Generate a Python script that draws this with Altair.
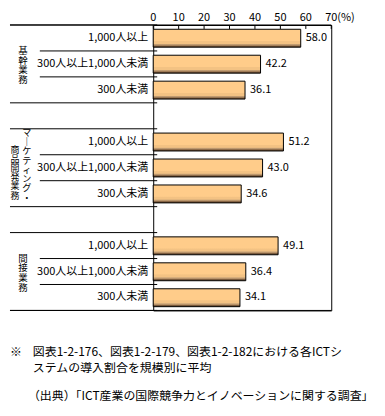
import altair as alt
import pandas as pd

groups = ["基幹業務", "マーケティング・商品開発業務", "間接業務"]
sizes = ["1,000人以上", "300人以上1,000人未満", "300人未満"]
values = [
    [58.0, 42.2, 36.1],
    [51.2, 43.0, 34.6],
    [49.1, 36.4, 34.1],
]
x_ticks = [0, 10, 20, 30, 40, 50, 60, 70]
note_lines = [
    "図表1-2-176、図表1-2-179、図表1-2-182における各ICTシ",
    "ステムの導入割合を規模別に平均",
]
source_line = "（出典）「ICT産業の国際競争力とイノベーションに関する調査」"

FONT = "Noto Sans CJK JP"
ROWS_PER_GROUP = len(sizes) + 1
N_ROWS = len(groups) * ROWS_PER_GROUP - 1

recs = []
for gi, g in enumerate(groups):
    for si, s in enumerate(sizes):
        r = gi * ROWS_PER_GROUP + si
        recs.append(dict(group=g, size=s, value=values[gi][si],
                         top=r + 0.165, bottom=r + 0.855, mid=r + 0.5))
df = pd.DataFrame(recs)

long_pos, short_pos = [], []
for gi in range(len(groups)):
    start = gi * ROWS_PER_GROUP
    long_pos += [start, start + len(sizes)]
    short_pos += [start + k for k in range(1, len(sizes))]
long_df = pd.DataFrame({"pos": long_pos})
short_df = pd.DataFrame({"pos": short_pos})
tick_df = pd.DataFrame({"t": x_ticks})

xs = alt.Scale(domain=[x_ticks[0], x_ticks[-1]], nice=False, zero=False)
ys = alt.Scale(domain=[0, N_ROWS], reverse=True, nice=False, zero=False)

grad = alt.Gradient(
    gradient="linear", x1=0, x2=0, y1=0, y2=1,
    stops=[
        alt.GradientStop(color="#FFCC8A", offset=0),
        alt.GradientStop(color="#FFCC8A", offset=0.64),
        alt.GradientStop(color="#F3C283", offset=0.66),
        alt.GradientStop(color="#F3C283", offset=0.80),
        alt.GradientStop(color="#C9A478", offset=0.83),
        alt.GradientStop(color="#B08A62", offset=0.90),
        alt.GradientStop(color="#7A5A3C", offset=0.93),
        alt.GradientStop(color="#6A4C30", offset=1),
    ],
)

X = lambda f: alt.X(f, scale=xs, axis=None)
Y = lambda f: alt.Y(f, scale=ys, axis=None)

base = alt.Chart(df)

bars = base.mark_rect(fill=grad, stroke="black", strokeWidth=1).encode(
    x=X("value:Q"), x2=alt.datum(0), y=Y("top:Q"), y2="bottom:Q")

val_text = base.mark_text(align="left", baseline="middle", dx=5, fontSize=11,
                          font=FONT, color="black").encode(
    x=X("value:Q"), y=Y("mid:Q"), text=alt.Text("value:Q", format=".1f"))

size_text = base.mark_text(align="right", baseline="middle", fontSize=11,
                           font=FONT, color="black").encode(
    x=alt.value(-5), y=Y("mid:Q"), text="size:N")

# vertical group labels
def vert(s):
    return "\n".join("｜" if c == "ー" else c for c in s)

gl_recs = []
for gi, g in enumerate(groups):
    mid = gi * ROWS_PER_GROUP + len(sizes) / 2
    gl_recs.append(dict(g=g, mid=mid))
gdf = pd.DataFrame(gl_recs)

g_single = alt.Chart(gdf[gdf["g"] != groups[1]].assign(lbl=lambda d: d["g"].map(vert))).mark_text(
    align="center", baseline="top", fontSize=9.5, lineHeight=9.8, lineBreak="\n",
    font=FONT, color="black", dy=-18).encode(
    x=alt.value(-131), y=Y("mid:Q"), text="lbl:N")

mk, prod = groups[1].split("・")
g2 = gdf[gdf["g"] == groups[1]]
g_col1 = alt.Chart(g2.assign(lbl=vert(mk + "・"))).mark_text(
    align="center", baseline="top", fontSize=9.2, lineHeight=9.3, lineBreak="\n",
    font=FONT, color="black", dy=-39).encode(
    x=alt.value(-127), y=Y("mid:Q"), text="lbl:N")
g_col2 = alt.Chart(g2.assign(lbl=vert(prod))).mark_text(
    align="center", baseline="top", fontSize=9, lineHeight=9.2, lineBreak="\n",
    font=FONT, color="black", dy=-22).encode(
    x=alt.value(-139), y=Y("mid:Q"), text="lbl:N")

long_rules = alt.Chart(long_df).mark_rule(color="black", strokeWidth=1).encode(
    x=alt.value(-144), x2=alt.value(4), y=Y("pos:Q"))
short_rules = alt.Chart(short_df).mark_rule(color="black", strokeWidth=1).encode(
    x=alt.value(-114), x2=alt.value(4), y=Y("pos:Q"))
edge_rules = alt.Chart(pd.DataFrame({"pos": [0, N_ROWS]})).mark_rule(
    color="black", strokeWidth=1).encode(
    x=alt.value(-144), x2=alt.value(179), y=Y("pos:Q"))

top_ticks = alt.Chart(tick_df).mark_rule(color="black", strokeWidth=1).encode(
    x=X("t:Q"), y=alt.value(0), y2=alt.value(4))

tick_labels = alt.Chart(tick_df).mark_text(
    align="center", baseline="alphabetic", fontSize=11, font=FONT, color="black").encode(
    x=X("t:Q"), y=alt.value(-4), text=alt.Text("t:Q", format="d"))

pct = alt.Chart(pd.DataFrame({"t": [x_ticks[-1]]})).mark_text(
    align="left", baseline="alphabetic", dx=6, fontSize=11, font=FONT, color="black").encode(
    x=X("t:Q"), y=alt.value(-4), text=alt.value("(%)"))

note_mark = alt.Chart(pd.DataFrame({"a": [0]})).mark_text(
    align="left", baseline="middle", fontSize=12, font=FONT, color="black").encode(
    x=alt.value(-144), y=alt.value(329), text=alt.value("※"))
note1 = alt.Chart(pd.DataFrame({"a": [0]})).mark_text(
    align="left", baseline="middle", fontSize=12, font=FONT, color="black").encode(
    x=alt.value(-121), y=alt.value(329), text=alt.value(note_lines[0]))
note2 = alt.Chart(pd.DataFrame({"a": [0]})).mark_text(
    align="left", baseline="middle", fontSize=12, font=FONT, color="black").encode(
    x=alt.value(-121), y=alt.value(345), text=alt.value(note_lines[1]))
note3 = alt.Chart(pd.DataFrame({"a": [0]})).mark_text(
    align="left", baseline="middle", fontSize=12, font=FONT, color="black").encode(
    x=alt.value(-126), y=alt.value(373), text=alt.value(source_line))

chart = alt.layer(
    bars, val_text, size_text, g_single, g_col1, g_col2,
    long_rules, short_rules, edge_rules, top_ticks, tick_labels, pct,
    note_mark, note1, note2, note3,
).properties(
    width=179, height=287,
    autosize=alt.AutoSizeParams(type="none"),
    padding={"left": 146, "top": 16, "right": 46, "bottom": 96},
    background="white",
).configure_view(stroke="black", strokeWidth=1)

chart.save("out.html", embed_options={"renderer": "svg", "actions": False})
